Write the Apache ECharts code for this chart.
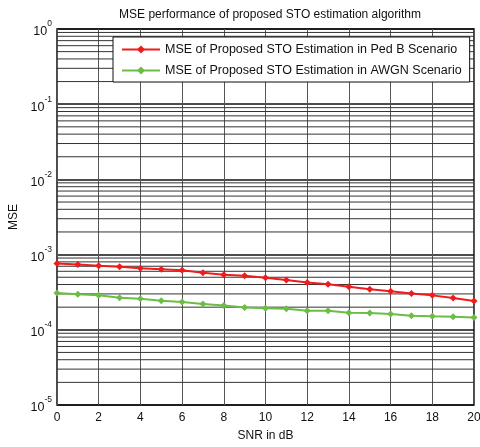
<!DOCTYPE html>
<html>
<head>
<meta charset="utf-8">
<script src="https://cdn.jsdelivr.net/npm/echarts@6/dist/echarts.min.js"></script>
<style>
html,body{margin:0;padding:0;background:#fff;}
#chart{width:480px;height:447px;}
</style>
</head>
<body>
<div id="chart"></div>
<script>
var snr=[0,1,2,3,4,5,6,7,8,9,10,11,12,13,14,15,16,17,18,19,20];
var pedB=[7.6e-4,7.4e-4,7.1e-4,6.9e-4,6.6e-4,6.4e-4,6.2e-4,5.75e-4,5.4e-4,5.25e-4,4.93e-4,4.6e-4,4.27e-4,4.02e-4,3.74e-4,3.45e-4,3.25e-4,3.05e-4,2.87e-4,2.64e-4,2.41e-4];
var awgn=[3.08e-4,2.96e-4,2.87e-4,2.67e-4,2.59e-4,2.44e-4,2.34e-4,2.2e-4,2.11e-4,1.98e-4,1.94e-4,1.9e-4,1.79e-4,1.79e-4,1.68e-4,1.67e-4,1.62e-4,1.54e-4,1.51e-4,1.49e-4,1.46e-4];
var seriesNames=['MSE of Proposed STO Estimation in Ped B Scenario','MSE of Proposed STO Estimation in AWGN Scenario'];
var decades=[-5,-4,-3,-2,-1];
var minorSteps=[2,3,4,5,6,7,8,9];

// minor grid lines of the log axis (2..9 in every decade)
var minorLines=[];
for(var i=0;i<decades.length;i++){
    for(var j=0;j<minorSteps.length;j++){
        minorLines.push([minorSteps[j]*Math.pow(10,decades[i])]);
    }
}

var chart=echarts.init(document.getElementById('chart'));
var font='Liberation Sans, Arial, sans-serif';

var option={
    animation:false,
    backgroundColor:'#fff',
    textStyle:{fontFamily:font},
    title:{
        text:'MSE performance of proposed STO estimation algorithm',
        left:265,
        textAlign:'center',
        top:4,
        textStyle:{fontSize:12,fontWeight:'normal',color:'#111',fontFamily:font}
    },
    grid:{left:57,right:6,top:29,bottom:42,show:true,borderColor:'#111',borderWidth:1.5,backgroundColor:'#fff',outerBoundsMode:'none',containLabel:false},
    legend:{
        data:seriesNames,
        orient:'vertical',
        left:113,
        top:37,
        width:356,
        itemWidth:38,
        itemHeight:10,
        itemGap:8,
        padding:[6,8,5,8],
        backgroundColor:'#fff',
        borderColor:'#111',
        borderWidth:1,
        textStyle:{fontSize:12.5,color:'#111',fontFamily:font}
    },
    xAxis:{
        type:'value',
        min:0,max:20,interval:2,
        name:'SNR in dB',
        nameLocation:'middle',
        nameGap:25,
        nameTextStyle:{fontSize:12,color:'#111'},
        axisLine:{show:false},
        axisTick:{show:false},
        axisLabel:{fontSize:12,color:'#111',margin:7},
        splitLine:{show:true,lineStyle:{color:'#555',width:1}}
    },
    yAxis:{
        type:'log',
        logBase:10,
        min:1e-5,max:1,interval:1,
        name:'MSE',
        nameLocation:'middle',
        nameGap:32,
        nameTextStyle:{fontSize:12,color:'#111'},
        axisLine:{show:false},
        axisTick:{show:false},
        axisLabel:{
            margin:5,
            formatter:function(v){
                var e=Math.round(Math.log(v)/Math.LN10);
                return '{b|10}{e|'+e+'}';
            },
            rich:{
                b:{fontSize:12.5,color:'#111',fontFamily:font,padding:[6,0,0,0]},
                e:{fontSize:8.5,color:'#111',fontFamily:font,verticalAlign:'top'}
            }
        },
        splitLine:{show:true,lineStyle:{color:'#111',width:1.5}}
    },
    series:[
        {
            name:'minorGrid',
            type:'custom',
            silent:true,
            z:1,
            data:minorLines,
            encode:{y:0},
            renderItem:function(params,api){
                var v=api.value(0);
                var p1=api.coord([0,v]);
                var p2=api.coord([20,v]);
                return {
                    type:'line',
                    shape:{x1:p1[0],y1:p1[1],x2:p2[0],y2:p2[1]},
                    style:{stroke:'#333',lineWidth:1}
                };
            }
        },
        {
            name:seriesNames[0],
            type:'line',
            data:snr.map(function(x,i){return [x,pedB[i]];}),
            symbol:'diamond',
            symbolSize:7,
            z:5,
            itemStyle:{color:'#ee1c1c'},
            lineStyle:{color:'#ee1c1c',width:2}
        },
        {
            name:seriesNames[1],
            type:'line',
            data:snr.map(function(x,i){return [x,awgn[i]];}),
            symbol:'diamond',
            symbolSize:7,
            z:5,
            itemStyle:{color:'#6cbd45'},
            lineStyle:{color:'#6cbd45',width:2}
        }
    ]
};
chart.setOption(option);
</script>
</body>
</html>
